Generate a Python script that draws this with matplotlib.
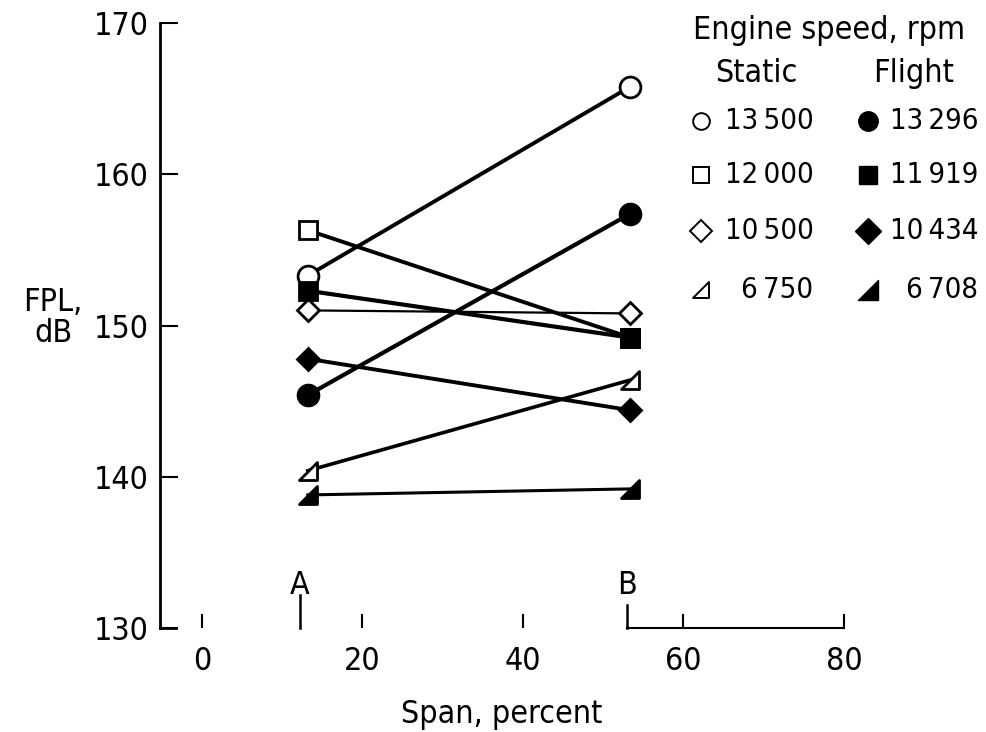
import matplotlib
matplotlib.use("Agg")
import matplotlib.pyplot as plt
from matplotlib.path import Path

plt.rcParams['font.family'] = ['DejaVu Sans']
plt.rcParams['font.stretch'] = 'condensed'

# span positions of the two measurement stations
span = [13.2, 53.4]

static_rpm = ['13 500', '12 000', '10 500', '6 750']
flight_rpm = ['13 296', '11 919', '10 434', '6 708']

# FPL (dB) at stations A and B
static_fpl = [[153.3, 165.8], [156.3, 149.2], [151.0, 150.8], [140.4, 146.4]]
flight_fpl = [[145.4, 157.4], [152.3, 149.2], [147.8, 144.4], [138.8, 139.2]]

flag = Path([(-1, -1), (1, -1), (1, 1), (-1, -1)],
            [Path.MOVETO, Path.LINETO, Path.LINETO, Path.CLOSEPOLY])
markers = ['o', 's', 'D', flag]
msizes = [15, 13, 11, 13]
static_lw = [2.8, 2.8, 1.6, 2.6]
flight_lw = [3.0, 3.0, 2.8, 2.2]

fs = 23

fig = plt.figure(figsize=(9.86, 7.32), dpi=100)
ax = fig.add_axes([0.1623, 0.142, 0.6937, 0.8266])

for vals, m, ms, lw in zip(static_fpl, markers, msizes, static_lw):
    ax.plot(span, vals, color='black', lw=lw, marker=m, ms=ms,
            mfc='white', mec='black', mew=2, zorder=3)
for vals, m, ms, lw in zip(flight_fpl, markers, msizes, flight_lw):
    ax.plot(span, vals, color='black', lw=lw, marker=m, ms=ms,
            mfc='black', mec='black', mew=2, zorder=3)

ax.set_xlim(-5.2, 80)
ax.set_ylim(130, 170)
for s in ['top', 'right', 'bottom']:
    ax.spines[s].set_visible(False)
ax.spines['left'].set_linewidth(2)

ax.set_yticks([130, 140, 150, 160, 170])
ax.tick_params(axis='y', direction='in', length=13, width=1.5, labelsize=fs, pad=8)
ax.set_xticks([0, 20, 40, 60, 80])
ax.tick_params(axis='x', direction='in', length=10, width=1.5, labelsize=fs, pad=13)

# broken bottom axis
ax.plot([-5.2, -3.2], [130, 130], color='black', lw=2, clip_on=False)
ax.plot([53, 80], [130, 130], color='black', lw=1.5, clip_on=False)
ax.plot([12.2, 12.2], [130, 132.2], color='black', lw=1.8, clip_on=False)
ax.plot([53, 53], [130, 131.5], color='black', lw=1.8, clip_on=False)
ax.text(12.2, 131.8, 'A', ha='center', va='bottom', fontsize=fs)
ax.text(53, 131.8, 'B', ha='center', va='bottom', fontsize=fs)

ax.set_xlabel('Span, percent', fontsize=fs, labelpad=16)
fig.text(0.054, 0.566, 'FPL,\ndB', ha='center', va='center', fontsize=fs,
         linespacing=1.0)

# legend block
fig.text(0.703, 0.958, 'Engine speed, rpm', ha='left', va='center', fontsize=fs)
fig.text(0.725, 0.900, 'Static', ha='left', va='center', fontsize=fs)
fig.text(0.886, 0.900, 'Flight', ha='left', va='center', fontsize=fs)
rows = [0.835, 0.761, 0.684, 0.604]
lms = [12, 11, 11, 12]
for y, m, ms, s_lab, f_lab in zip(rows, markers, lms, static_rpm, flight_rpm):
    ax.plot([0.711], [y], marker=m, ms=ms, mfc='white', mec='black', mew=1.4,
            transform=fig.transFigure, clip_on=False, ls='none')
    ax.plot([0.880], [y], marker=m, ms=ms + 2, mfc='black', mec='black',
            transform=fig.transFigure, clip_on=False, ls='none')
    fig.text(0.825, y, s_lab.replace(' ', '\u2009'), ha='right', va='center',
             fontsize=21)
    fig.text(0.992, y, f_lab.replace(' ', '\u2009'), ha='right', va='center',
             fontsize=21)

fig.savefig('out.png', dpi=100)
